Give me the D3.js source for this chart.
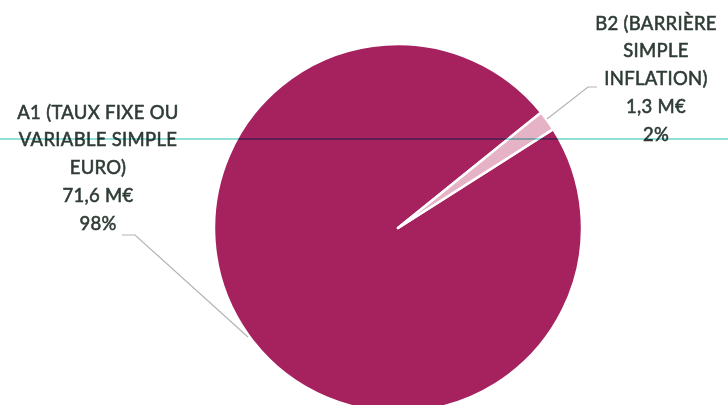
<!DOCTYPE html>
<html><head><meta charset="utf-8">
<script src="https://cdn.jsdelivr.net/npm/d3@7"></script>
<style>body{margin:0;background:#fff}svg{display:block}</style>
</head><body>
<script>
const categories = ["A1 (TAUX FIXE OU VARIABLE SIMPLE EURO)", "B2  (BARRIÈRE SIMPLE INFLATION)"];
const values = [71.6, 1.3];
const valueLabels = ["71,6 M€", "1,3 M€"];
const percentLabels = ["98%", "2%"];
const labelLines = [["A1 (TAUX FIXE OU", "VARIABLE SIMPLE", "EURO)"], ["B2  (BARRIÈRE", "SIMPLE", "INFLATION)"]];
const colors = ["#a5225f", "#e6b3c6"];

const W = 728, H = 405;
const svg = d3.select("body").append("svg").attr("width", W).attr("height", H);
const cx = 398, cy = 228, R = 184;
const g = svg.append("g").attr("transform", `translate(${cx},${cy})`);
const start = 57.5 * Math.PI / 180;
const pie = d3.pie().sort(null).startAngle(start).endAngle(start + 2 * Math.PI);
const arcs = pie(values);
const arc = d3.arc().innerRadius(0).outerRadius(R);
g.selectAll("path").data(arcs).enter().append("path")
  .attr("d", arc).attr("fill", (d, i) => colors[i])
  .attr("stroke", "#fff").attr("stroke-width", 2.5).attr("stroke-linejoin", "round");

// leader lines
const labelPos = [{x: 98, y: 114}, {x: 656, y: 25}];
const leaders = [
  [[122, 235], [135, 235], [248, 337]],
  [[597, 87], [588, 87], [547, 119]]
];
svg.selectAll("path.leader").data(leaders).enter().append("path")
  .attr("class", "leader")
  .attr("d", d => d3.line()(d)).attr("fill", "none")
  .attr("stroke", "#b4b4b4").attr("stroke-width", 1.2);

const lh = 27.8;
arcs.forEach((a, i) => {
  const lines = labelLines[i].concat([valueLabels[i], percentLabels[i]]);
  const t = svg.append("text").attr("text-anchor", "middle")
    .attr("font-family", "Lato, 'Open Sans', sans-serif").attr("font-size", 18.5)
    .attr("fill", "#2f3c35").attr("stroke", "#2f3c35").attr("stroke-width", 0.55)
    .attr("letter-spacing", 0.3);
  lines.forEach((l, j) => {
    t.append("tspan").attr("x", labelPos[i].x).attr("y", labelPos[i].y + j * lh)
      .attr("dominant-baseline", "middle").text(l);
  });
});

// scan artifact line
svg.append("line").attr("x1", 0).attr("x2", W).attr("y1", 139).attr("y2", 139)
  .attr("stroke", "#6ed4cb").attr("stroke-width", 1.6).style("mix-blend-mode", "multiply");
</script>
</body></html>
